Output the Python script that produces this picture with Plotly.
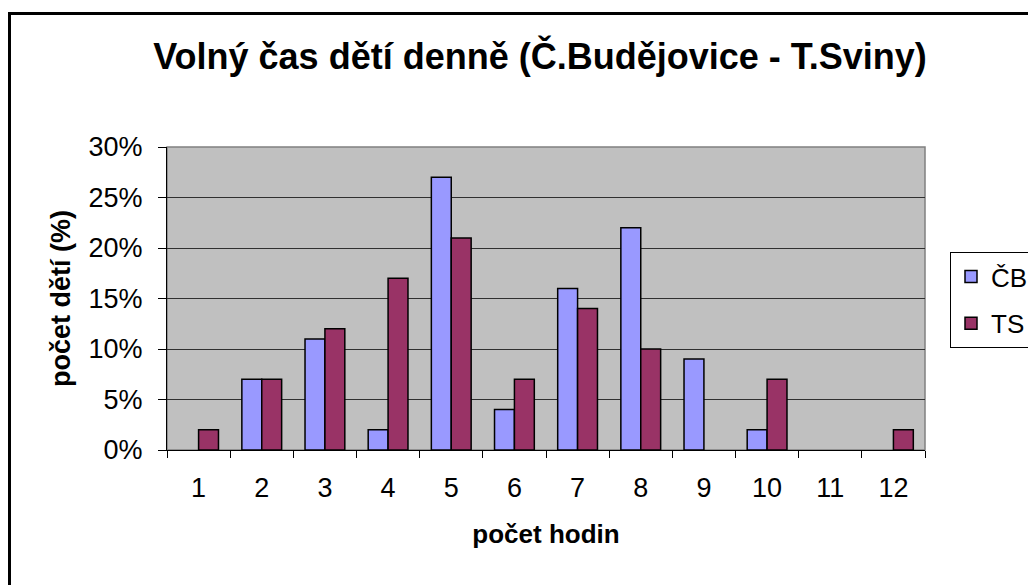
import plotly.graph_objects as go

hours = ["1", "2", "3", "4", "5", "6", "7", "8", "9", "10", "11", "12"]
cb = [0, 7, 11, 2, 27, 4, 16, 22, 9, 2, 0, 0]
ts = [2, 7, 12, 17, 21, 7, 14, 10, 0, 7, 0, 2]
y_ticks = [0, 5, 10, 15, 20, 25, 30]
y_labels = [f"{v}%" for v in y_ticks]

W, H = 1028, 585
L, R, T, B = 167, 925, 147, 450
pw, ph = R - L, B - T

def px(x):
    return (x - L) / pw

def py(y):
    return (B - y) / ph

font = "Liberation Sans, Arial, sans-serif"

def visible(vals):
    # zero-height bars are not drawn (no outline stub on the axis)
    return [v if v > 0 else None for v in vals]

fig = go.Figure()
fig.add_trace(go.Bar(x=hours, y=visible(cb), name="ČB",
                     marker=dict(color="#9999FF", line=dict(color="black", width=1.5)),
                     legendgroup="a"))
fig.add_trace(go.Bar(x=hours, y=visible(ts), name="TS",
                     marker=dict(color="#993366", line=dict(color="black", width=1.5)),
                     legendgroup="b"))

fig.update_layout(
    width=W, height=H,
    margin=dict(l=L, r=W - R, t=T, b=H - B, autoexpand=False),
    paper_bgcolor="white",
    plot_bgcolor="#C0C0C0",
    barmode="group",
    bargap=0.37,
    bargroupgap=0,
    font=dict(family=font, size=27, color="black"),
    title=dict(text="<b>Volný čas dětí denně (Č.Budějovice - T.Sviny)</b>",
               x=540 / W, xref="container", xanchor="center",
               y=1 - 56 / H, yanchor="middle", yref="container",
               font=dict(size=36, family=font)),
    legend=dict(x=px(950), y=py(252), xanchor="left", yanchor="top",
                bordercolor="black", borderwidth=1, bgcolor="white",
                font=dict(size=26, family=font), traceorder="grouped",
                tracegroupgap=10),
    showlegend=True,
)

fig.update_xaxes(
    type="category",
    showline=True, linecolor="black", linewidth=1,
    ticks="outside", tickson="boundaries", ticklen=7, tickcolor="black",
    ticklabelstandoff=14,
    showgrid=False,
    title=dict(text="<b>počet hodin</b>", font=dict(size=26, family=font), standoff=22),
)
fig.update_yaxes(
    range=[0, 30], tickmode="array", tickvals=y_ticks, ticktext=y_labels,
    showline=True, linecolor="black", linewidth=1,
    ticks="outside", ticklen=8, tickcolor="black",
    ticklabelstandoff=10,
    showgrid=True, gridcolor="#303030", gridwidth=1,
    zeroline=False,
    title=dict(text="<b>počet dětí (%)</b>", font=dict(size=27, family=font), standoff=10),
)

# plot-area frame (gray) and outer chart border
fig.add_shape(type="rect", xref="paper", yref="paper", x0=0, x1=1, y0=0, y1=1,
              line=dict(color="#808080", width=1.5), layer="below")
fig.add_shape(type="rect", xref="paper", yref="paper",
              x0=px(9.5), x1=px(1040), y0=py(600), y1=py(13.5),
              line=dict(color="black", width=3), layer="above")

fig.write_html("out.html", config={"displayModeBar": False},
               post_script="document.body.style.margin='0';")
